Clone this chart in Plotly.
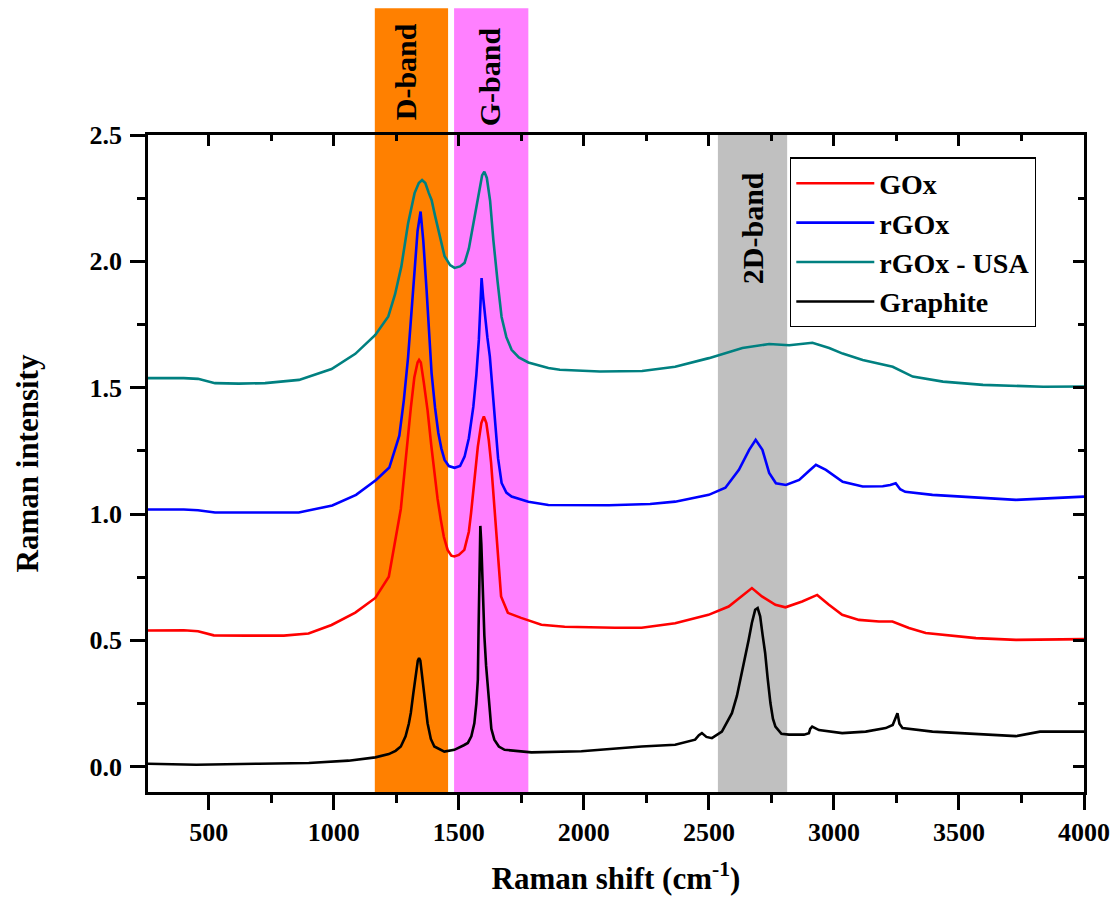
import plotly.graph_objects as go

# Raman spectra (wavenumber in cm^-1, intensity offset per sample)
gox_x = [257, 400, 457, 520, 650, 800, 899, 991, 1086, 1166, 1220, 1255, 1268, 1281, 1295, 1308, 1322, 1335,
         1341, 1348, 1360, 1375, 1390, 1402, 1415, 1428, 1440, 1455, 1470, 1482, 1500, 1522, 1540, 1549,
         1562, 1576, 1590, 1600, 1610, 1620, 1629, 1640, 1649, 1660, 1669, 1696, 1749, 1830, 1923, 2124,
         2231, 2365, 2498, 2579, 2632, 2672, 2712, 2766, 2806, 2873, 2933, 2980, 3033, 3100, 3180, 3234,
         3300, 3367, 3568, 3728, 4000]
gox_y = [0.539, 0.540, 0.536, 0.520, 0.519, 0.519, 0.527, 0.561, 0.610, 0.668, 0.752, 0.937, 1.020, 1.150,
         1.300, 1.420, 1.540, 1.600, 1.610, 1.600, 1.520, 1.410, 1.270, 1.163, 1.060, 0.977, 0.910, 0.858,
         0.835, 0.832, 0.838, 0.858, 0.930, 1.005, 1.130, 1.267, 1.360, 1.386, 1.360, 1.290, 1.203, 1.060,
         0.937, 0.800, 0.674, 0.609, 0.589, 0.562, 0.554, 0.550, 0.550, 0.568, 0.601, 0.634, 0.674, 0.707,
         0.674, 0.641, 0.631, 0.654, 0.680, 0.641, 0.601, 0.581, 0.575, 0.575, 0.549, 0.529, 0.509, 0.502,
         0.505]

rgox_x = [257, 400, 457, 525, 700, 860, 994, 1089, 1169, 1222, 1262, 1280, 1297, 1310, 1323, 1335, 1347,
          1358, 1371, 1381, 1391, 1405, 1418, 1430, 1443, 1460, 1483, 1505, 1523, 1540, 1558, 1570, 1580,
          1586, 1591, 1597, 1604, 1614, 1624, 1634, 1644, 1657, 1671, 1690, 1711, 1778, 1858, 1939, 2100,
          2265, 2365, 2500, 2566, 2620, 2661, 2687, 2714, 2741, 2768, 2808, 2861, 2900, 2928, 2968, 3035,
          3115, 3195, 3225, 3247, 3265, 3285, 3394, 3595, 3728, 4000]
rgox_y = [1.018, 1.018, 1.015, 1.006, 1.006, 1.006, 1.034, 1.076, 1.135, 1.184, 1.310, 1.450, 1.620, 1.800,
          1.979, 2.120, 2.197, 2.080, 1.887, 1.720, 1.558, 1.420, 1.321, 1.260, 1.214, 1.190, 1.183, 1.190,
          1.227, 1.300, 1.425, 1.550, 1.689, 1.820, 1.934, 1.860, 1.781, 1.700, 1.623, 1.500, 1.361, 1.220,
          1.123, 1.085, 1.069, 1.049, 1.036, 1.035, 1.035, 1.040, 1.049, 1.076, 1.104, 1.175, 1.254, 1.294,
          1.254, 1.163, 1.122, 1.115, 1.135, 1.170, 1.195, 1.175, 1.128, 1.109, 1.110, 1.115, 1.122, 1.098,
          1.088, 1.076, 1.063, 1.056, 1.069]

usa_x = [257, 400, 457, 525, 620, 725, 861, 991, 1086, 1166, 1218, 1245, 1270, 1297, 1323, 1340, 1353, 1366,
         1380, 1391, 1405, 1418, 1443, 1465, 1483, 1505, 1523, 1540, 1558, 1572, 1583, 1593, 1602, 1612,
         1625, 1638, 1655, 1671, 1690, 1711, 1740, 1778, 1858, 1904, 2064, 2233, 2365, 2500, 2634, 2741,
         2821, 2914, 2981, 3035, 3115, 3190, 3235, 3315, 3436, 3596, 3837, 4000]
usa_y = [1.538, 1.538, 1.535, 1.518, 1.516, 1.518, 1.531, 1.574, 1.634, 1.709, 1.782, 1.870, 1.979, 2.150,
         2.270, 2.310, 2.322, 2.310, 2.270, 2.243, 2.180, 2.124, 2.020, 1.985, 1.974, 1.980, 1.994, 2.050,
         2.150, 2.230, 2.295, 2.340, 2.355, 2.330, 2.240, 2.085, 1.920, 1.780, 1.700, 1.650, 1.620, 1.600,
         1.578, 1.571, 1.564, 1.566, 1.583, 1.617, 1.657, 1.673, 1.668, 1.678, 1.657, 1.635, 1.610, 1.595,
         1.583, 1.544, 1.524, 1.511, 1.504, 1.505]

graphite_x = [257, 450, 700, 900, 1059, 1166, 1220, 1247, 1268, 1287, 1300, 1308, 1318, 1328, 1336, 1341,
              1346, 1355, 1365, 1375, 1388, 1402, 1442, 1482, 1520, 1536, 1550, 1562, 1570, 1576, 1579,
              1582, 1586, 1590, 1596, 1602, 1609, 1615, 1622, 1630, 1642, 1660, 1683, 1790, 1990, 2231,
              2365, 2445, 2460, 2472, 2490, 2512, 2552, 2592, 2612, 2632, 2645, 2659, 2672, 2685, 2695,
              2705, 2715, 2725, 2735, 2746, 2756, 2766, 2790, 2820, 2880, 2900, 2905, 2913, 2940, 2980,
              3033, 3127, 3207, 3235, 3248, 3254, 3262, 3274, 3394, 3595, 3728, 3824, 4000]
graphite_y = [0.012, 0.008, 0.012, 0.015, 0.024, 0.037, 0.050, 0.063, 0.080, 0.120, 0.170, 0.213, 0.290,
              0.370, 0.420, 0.430, 0.420, 0.344, 0.250, 0.172, 0.110, 0.080, 0.060, 0.067, 0.085, 0.094,
              0.120, 0.172, 0.250, 0.344, 0.550, 0.780, 0.953, 0.880, 0.700, 0.520, 0.400, 0.330, 0.220,
              0.150, 0.107, 0.080, 0.067, 0.057, 0.061, 0.080, 0.087, 0.107, 0.125, 0.133, 0.118, 0.113,
              0.139, 0.212, 0.280, 0.371, 0.440, 0.502, 0.570, 0.621, 0.628, 0.595, 0.520, 0.450, 0.350,
              0.252, 0.190, 0.159, 0.130, 0.127, 0.127, 0.133, 0.150, 0.159, 0.145, 0.139, 0.133, 0.139,
              0.153, 0.165, 0.195, 0.212, 0.170, 0.153, 0.139, 0.127, 0.121, 0.139, 0.139]

series = [
    ("GOx", gox_x, gox_y, "#FF0000"),
    ("rGOx", rgox_x, rgox_y, "#0000FF"),
    ("rGOx - USA", usa_x, usa_y, "#008080"),
    ("Graphite", graphite_x, graphite_y, "#000000"),
]

# Highlighted Raman bands
band_names = ["D-band", "G-band", "2D-band"]
band_start = [1164, 1481, 2536]
band_end = [1457, 1778, 2813]
band_colors = ["#FF8000", "#FF80FF", "#C0C0C0"]
band_label_x = [1290, 1621, 2672]
band_label_y = [1.096, 1.088, 0.858]   # paper units
band_top = [1.193, 1.193, 1.0]         # paper units

FONT = "Liberation Serif"
x_range = [257, 4000]
y_range = [-0.1, 2.5]

fig = go.Figure()
for name, xs, ys, color in series:
    fig.add_trace(go.Scatter(x=xs, y=ys, mode="lines", name="<b>%s</b>" % name,
                             line=dict(color=color, width=2.6)))

for name, x0, x1, color, lx, ly, top in zip(band_names, band_start, band_end, band_colors,
                                             band_label_x, band_label_y, band_top):
    fig.add_shape(type="rect", xref="x", yref="paper", x0=x0, x1=x1, y0=0, y1=top,
                  fillcolor=color, line=dict(width=0), layer="below")
    fig.add_annotation(x=lx, y=ly, xref="x", yref="paper", text="<b>%s</b>" % name,
                       textangle=-90, showarrow=False, xanchor="center", yanchor="middle",
                       font=dict(family=FONT, size=30, color="black"))

axis_common = dict(showline=True, linewidth=2.6, linecolor="black", showgrid=False, zeroline=False,
                   ticks="outside", ticklen=15, tickwidth=2.6, tickcolor="black", automargin=False,
                   tickfont=dict(family=FONT, size=26, color="black"))

fig.update_layout(
    width=1115, height=903,
    margin=dict(l=148, r=31, t=135, b=111),
    paper_bgcolor="white", plot_bgcolor="white",
    font=dict(family=FONT, color="black"),
    xaxis=dict(range=x_range, dtick=500, tick0=0, mirror=True,
               minor=dict(dtick=250, ticklen=8, tickwidth=2.6, tickcolor="black", ticks="outside"),
               title=dict(text="<b>Raman shift (cm<sup>-1</sup>)</b>", font=dict(family=FONT, size=31),
                          standoff=22),
               tickprefix="<b>", ticksuffix="</b>", **axis_common),
    yaxis=dict(range=y_range, dtick=0.5, tick0=0, tickformat=".1f", mirror=True,
               minor=dict(dtick=0.25, ticklen=8, tickwidth=2.6, tickcolor="black", ticks="outside"),
               title=dict(text="<b>Raman intensity</b>", font=dict(family=FONT, size=31), standoff=42),
               ticklabelstandoff=3,
               tickprefix="<b>", ticksuffix="</b>", **axis_common),
    xaxis2=dict(range=x_range, overlaying="x", side="top", dtick=500, tick0=0, showticklabels=False,
                showline=False, showgrid=False, zeroline=False, ticks="inside", ticklen=11, tickwidth=2.6,
                tickcolor="black", automargin=False,
                minor=dict(dtick=250, ticklen=6, tickwidth=2.6, tickcolor="black", ticks="inside")),
    yaxis2=dict(range=y_range, overlaying="y", side="right", dtick=0.5, tick0=0, showticklabels=False,
                showline=False, showgrid=False, zeroline=False, ticks="inside", ticklen=11, tickwidth=2.6,
                tickcolor="black", automargin=False,
                minor=dict(dtick=0.25, ticklen=6, tickwidth=2.6, tickcolor="black", ticks="inside")),
    legend=dict(x=0.686, y=0.966, xanchor="left", yanchor="top", bgcolor="white",
                bordercolor="black", borderwidth=1.2, itemwidth=78,
                font=dict(family=FONT, size=28, color="black"), tracegroupgap=0),
    showlegend=True,
)

# empty trace that carries the mirrored top/right tick axes
fig.add_trace(go.Scatter(x=[None], y=[None], xaxis="x2", yaxis="y2", showlegend=False, hoverinfo="skip"))

fig.write_html("out.html")
